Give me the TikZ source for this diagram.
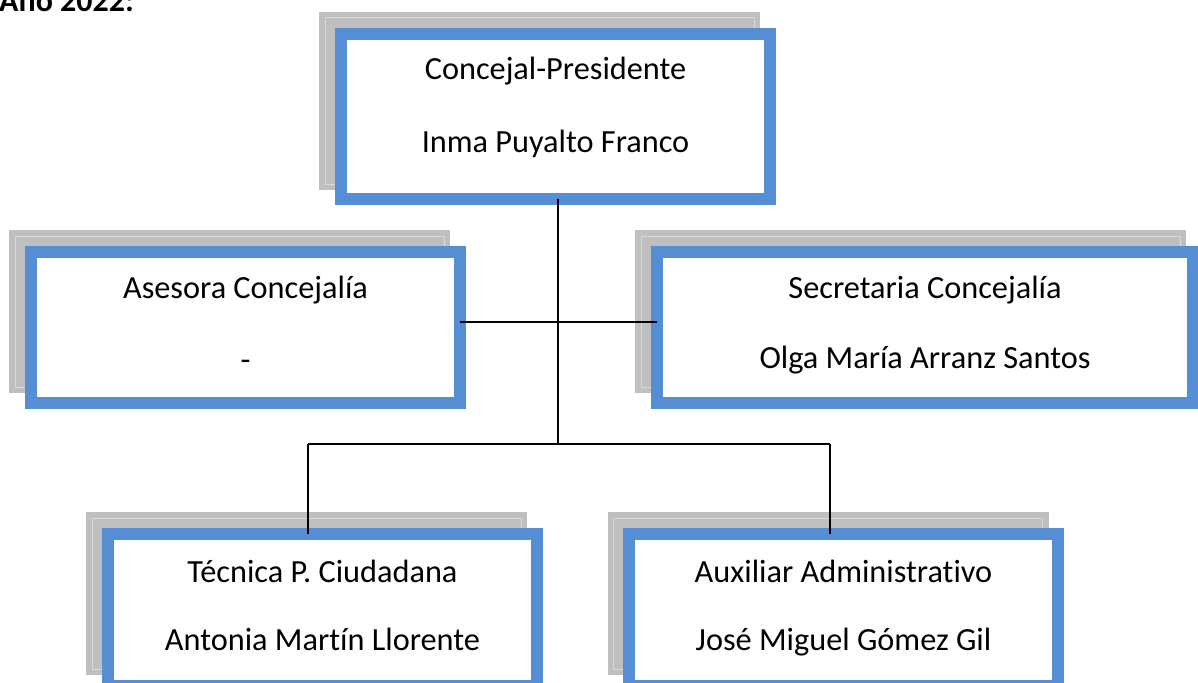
\documentclass[tikz,border=0pt]{standalone}
\usepackage{fontspec}
\setmainfont{Carlito}[Ligatures={NoCommon}]
\definecolor{boxblue}{HTML}{558ED5}
\definecolor{shadowgray}{HTML}{BFBFBF}
\definecolor{shadowline}{HTML}{DADADA}
\tikzset{
  bluebox/.style={rectangle, draw=boxblue, line width=12pt, fill=white, inner sep=0pt, outer sep=0pt},
  shadowbox/.style={rectangle, fill=shadowgray, draw=none, inner sep=0pt, outer sep=0pt},
  txt/.style={anchor=base, inner sep=0pt, font=\fontsize{32.3}{38}\selectfont},
  conn/.style={draw=black, line width=1.5pt},
}
\newcommand{\shadowframe}[1]{\draw[shadowline, line width=1pt] ([shift={(6,6)}]#1.north west) rectangle ([shift={(-6,-6)}]#1.south east);}
\begin{document}
\begin{tikzpicture}[x=1pt, y=-1pt]
\useasboundingbox (0,0) rectangle (1198,682);
\clip (0,0) rectangle (1198,682);
% title
\node[anchor=base west, inner sep=0pt, font=\fontsize{32}{38}\selectfont\bfseries] (title) at (-1,12) {Año 2022:};
% shadows
\node[shadowbox, minimum width=441pt, minimum height=178pt] (stop) at (539.5,101) {};
\node[shadowbox, minimum width=441pt, minimum height=163pt] (sml) at (229.5,311.5) {};
\node[shadowbox, minimum width=551pt, minimum height=163pt] (smr) at (910.5,311.5) {};
\node[shadowbox, minimum width=441pt, minimum height=163pt] (sbl) at (306.5,593.5) {};
\node[shadowbox, minimum width=441pt, minimum height=163pt] (sbr) at (828,593.5) {};
\shadowframe{stop}
\shadowframe{sml}
\shadowframe{smr}
\shadowframe{sbl}
\shadowframe{sbr}
% blue boxes
\node[bluebox, minimum width=429pt, minimum height=165pt] (top) at (555.5,116.5) {};
\node[bluebox, minimum width=429pt, minimum height=151pt] (ml) at (245.5,327.5) {};
\node[bluebox, minimum width=536pt, minimum height=151pt] (mr) at (925,327.5) {};
\node[bluebox, minimum width=429pt, minimum height=152pt] (bl) at (322.5,610) {};
\node[bluebox, minimum width=429pt, minimum height=152pt] (br) at (843.5,610) {};
% texts
\node[txt] (t1) at (555.5,80) {Concejal-Presidente};
\node[txt] (t2) at (555.5,152) {Inma Puyalto Franco};
\node[txt] (l1) at (245.5,298) {Asesora Concejalía};
\node[txt] (l2) at (245.5,370) {-};
\node[txt] (r1) at (925,298) {Secretaria Concejalía};
\node[txt] (r2) at (925,368) {Olga María Arranz Santos};
\node[txt] (b1) at (322.5,582) {Técnica P. Ciudadana};
\node[txt] (b2) at (322.5,650) {Antonia Martín Llorente};
\node[txt] (c1) at (843.5,582) {Auxiliar Administrativo};
\node[txt] (c2) at (843.5,650) {José Miguel Gómez Gil};
% connectors
\coordinate (j1) at (558,444);
\coordinate (h) at (558,322);
\coordinate (cl) at (308,444);
\coordinate (cr) at (830,444);
\draw[conn] (top.south -| j1) -- (j1);
\draw[conn] (ml.east |- h) -- (mr.west |- h);
\draw[conn] (cl) -- (cr);
\draw[conn] (cl) -- (cl |- bl.north);
\draw[conn] (cr) -- (cr |- br.north);
\end{tikzpicture}
\end{document}
